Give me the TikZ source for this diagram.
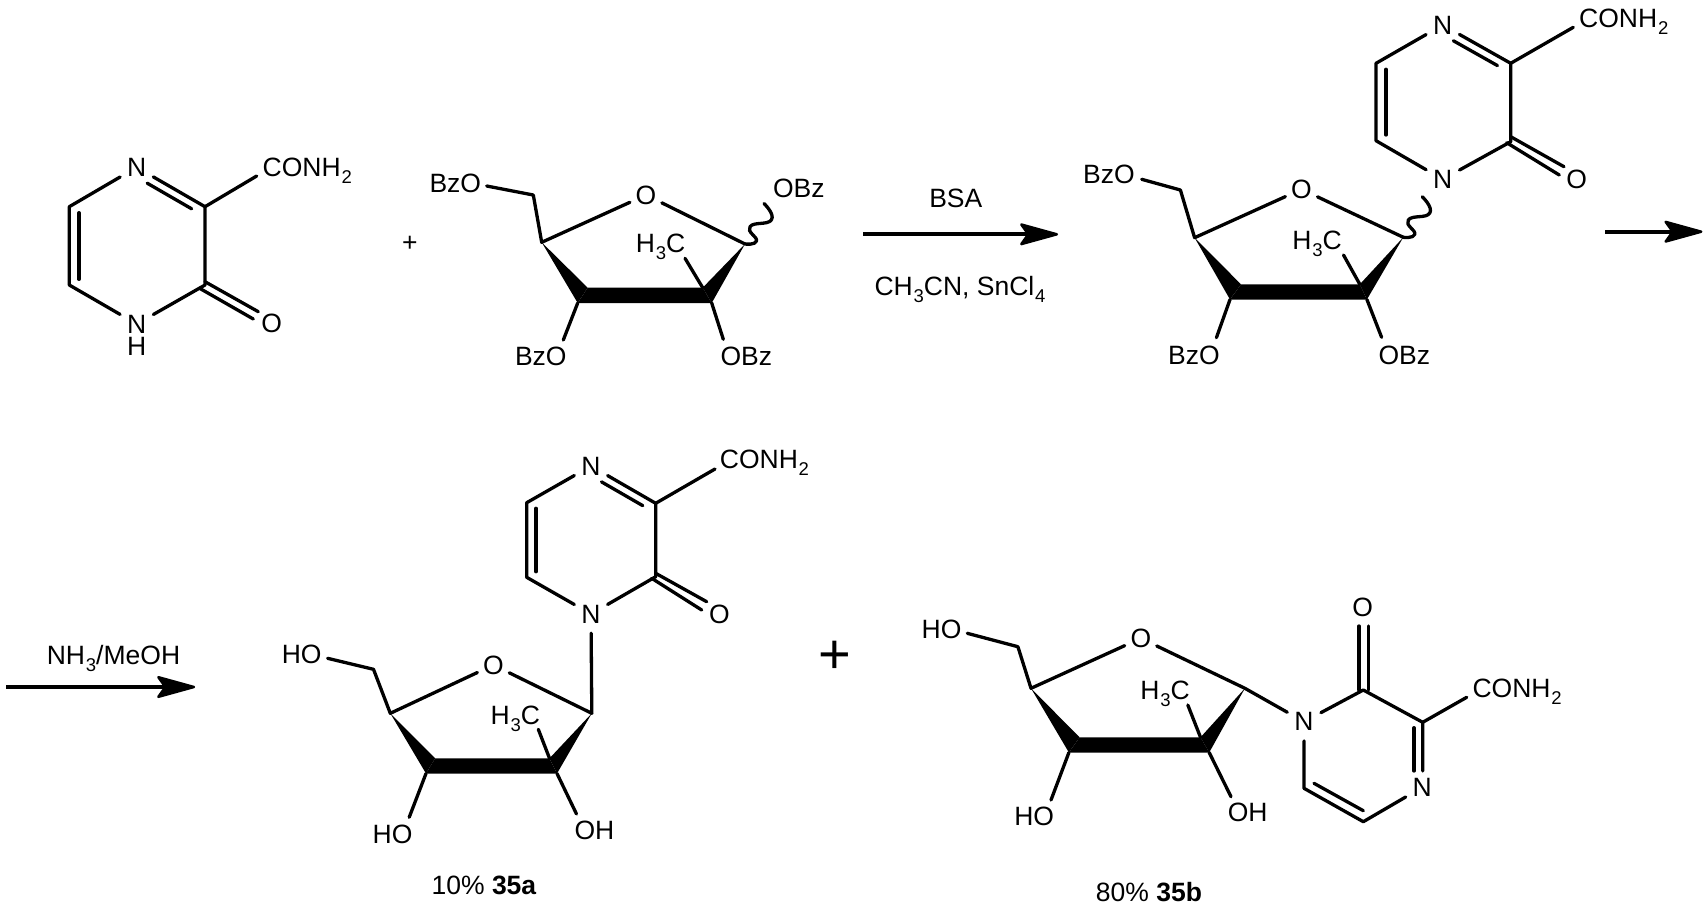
\documentclass[tikz,border=0pt]{standalone}
\usepackage{fontspec}
\setmainfont{Liberation Sans}
\usetikzlibrary{calc}
\newcommand{\lsub}[1]{\kern0.8pt\raisebox{-7pt}{\fontsize{18.5}{20}\selectfont #1}}
\newcommand{\ib}[5]{\draw[bond,shorten <=#4pt,shorten >=#5pt] ($(#1)!#3pt!90:(#2)$) -- ($(#2)!#3pt!-90:(#1)$);}
\newcommand{\wav}[1]{\draw[bond,shift={(#1)}] plot[smooth,tension=0.9] coordinates {(0,0) (11.5,-3) (5,-17.3) (26.5,-24.3) (19,-40.5)};}
\newcommand{\rxnarrow}[2]{%
  \draw[rxn] (#1) -- ($(#2)+(-25,0)$);
  \filldraw[rxnhead,shift={(#2)}] (-1.5,0) -- (-37,-9.8) -- (-30,0) -- (-37,9.8) -- cycle;
}
\newcommand{\furan}[1]{%
  \fill (#1c4) -- (#1tl) -- (#1bl) -- cycle;
  \fill (#1c1) -- (#1tr) -- (#1br) -- cycle;
  \fill (#1tl) -- (#1tr) -- (#1br) -- (#1bl) -- cycle;
  \draw[bond] (#1sb) -- (#1ch2) -- (#1c4) -- (#1o) -- (#1c1);
  \draw[bond] (#1me) -- (#1tr);
  \draw[bond] (#1bl) -- (#1lb);
  \draw[bond] (#1br) -- (#1rb);
}
\tikzset{
  every node/.style={font=\fontsize{26.5}{30}\selectfont},
  bond/.style={line width=3.3pt,line cap=round,line join=round},
  atom/.style={circle,inner sep=0pt,minimum size=38pt},
  ringo/.style={circle,inner sep=0pt,minimum size=35pt},
  lab/.style={inner sep=0pt,anchor=base},
  labw/.style={inner sep=0pt,anchor=base west},
  rxn/.style={line width=4pt},
  rxnhead/.style={line width=2.5pt,line join=round}
}
\begin{document}
\begin{tikzpicture}[x=1pt,y=-1pt]
\useasboundingbox (0,0) rectangle (1706,914);
% --- structure 1: pyrazinone
\node[atom] (an4) at (136.7,167.3) {N};
\node[atom] (an1) at (136.7,324) {N};
\node[inner sep=0pt] (ah1) at (136.7,346.7) {H};
\node (ao) at (271.7,323.3) {O};
\node[labw] (acn) at (262.5,176.5) {CONH\lsub{2}};
\coordinate (ac3) at (205,206.7);
\coordinate (ac2) at (205,285);
\coordinate (ac6) at (69.3,206.7);
\coordinate (ac5) at (69.3,285);
\coordinate (acb) at (256.7,176);
\coordinate (aoa) at (258.3,311.7);
\coordinate (aoo) at (205,281.7);
\coordinate (aob) at (200,288.5);
\coordinate (aoc) at (253.3,319);
\draw[bond] (an4) -- (ac6) -- (ac5) -- (an1) -- (ac2) -- (ac3) -- (an4);
\ib{ac3}{an4}{8.5}{10.5}{17}
\ib{ac6}{ac5}{9.7}{6}{5.7}
\draw[bond] (ac3) -- (acb);
\draw[bond] (aoo) -- (aoa);
\draw[bond] (aob) -- (aoc);
% --- plus 1
\node (plusa) at (409.8,244) {+};
% --- structure 1: sugar
\node[ringo] (fao) at (646,195) {O};
\coordinate (fac4) at (541.7,242.3);
\coordinate (fach2) at (533.3,195);
\coordinate (fac1) at (745,244);
\coordinate (fasb) at (486.7,186);
\coordinate (fatl) at (587.7,287.7);
\coordinate (fatr) at (702.7,287.7);
\coordinate (fabl) at (577.7,303);
\coordinate (fabr) at (711.7,303);
\coordinate (fame) at (685,258.3);
\coordinate (falb) at (563.3,340);
\coordinate (farb) at (723.3,339.3);
\furan{fa}
\wav{fac1}
\node[lab] (falab1) at (455.3,192.3) {BzO};
\node[lab] (falab2) at (798.8,197.3) {OBz};
\node[lab] (falab3) at (540.8,365.7) {BzO};
\node[lab] (falab4) at (746.3,365.7) {OBz};
\node[lab] (falab5) at (660.5,252.7) {H\lsub{3}C};
% --- arrow 1
\node[lab] (bsa) at (955.8,207.3) {BSA};
\node[lab] (sol) at (960,295) {CH\lsub{3}CN, SnCl\lsub{4}};
\coordinate (r1s) at (863.3,234.3);
\coordinate (r1e) at (1058.3,234.3);
\rxnarrow{r1s}{r1e}
% --- structure 2: pyrazinone
\node[atom] (bn4) at (1442.7,25) {N};
\node[atom] (bn1) at (1442.7,179.3) {N};
\node (bo) at (1576.7,179.3) {O};
\node[labw] (bcn) at (1579,27.3) {CONH\lsub{2}};
\coordinate (bc3) at (1510.7,63.3);
\coordinate (bc2) at (1510.7,141.7);
\coordinate (bc6) at (1376,63.3);
\coordinate (bc5) at (1376,140.7);
\coordinate (bcb) at (1573.3,27.3);
\coordinate (boo) at (1510.7,136.7);
\coordinate (boa) at (1564,166.7);
\coordinate (bob) at (1506.7,142.7);
\coordinate (boc) at (1559.3,175);
\draw[bond] (bn4) -- (bc6) -- (bc5) -- (bn1) -- (bc2) -- (bc3) -- (bn4);
\ib{bc3}{bn4}{8.5}{10.4}{17}
\ib{bc6}{bc5}{10}{6}{5.7}
\draw[bond] (bc3) -- (bcb);
\draw[bond] (boo) -- (boa);
\draw[bond] (bob) -- (boc);
% --- structure 2: sugar
\node[ringo] (fbo) at (1301.5,189.3) {O};
\coordinate (fbc4) at (1194.6,237.7);
\coordinate (fbch2) at (1180.4,190);
\coordinate (fbc1) at (1403.3,237.3);
\coordinate (fbsb) at (1141.7,179.3);
\coordinate (fbtl) at (1241,284.3);
\coordinate (fbtr) at (1359.8,284.3);
\coordinate (fbbl) at (1230,299.5);
\coordinate (fbbr) at (1366.9,299.5);
\coordinate (fbme) at (1343.5,255);
\coordinate (fblb) at (1216.4,337.7);
\coordinate (fbrb) at (1381.6,337.3);
\furan{fb}
\wav{fbc1}
\node[lab] (fblab1) at (1109,183.3) {BzO};
\node[lab] (fblab3) at (1194,364) {BzO};
\node[lab] (fblab4) at (1404.3,364) {OBz};
\node[lab] (fblab5) at (1317,249) {H\lsub{3}C};
% --- arrow 2
\coordinate (r2s) at (1605,231.7);
\coordinate (r2e) at (1702.7,231.7);
\rxnarrow{r2s}{r2e}
% --- arrow 3
\node[lab] (nh3) at (113.5,664) {NH\lsub{3}/MeOH};
\coordinate (r3s) at (6,687);
\coordinate (r3e) at (195.4,687);
\rxnarrow{r3s}{r3e}
% --- structure 3: pyrazinone
\node[atom] (cn4) at (591,466) {N};
\node[atom] (cn1) at (591,614) {N};
\node (co) at (719.3,614) {O};
\node[labw] (ccn) at (719.7,468.3) {CONH\lsub{2}};
\coordinate (cc3) at (655.7,503.3);
\coordinate (cc2) at (655.7,576.7);
\coordinate (cc6) at (526.7,502.7);
\coordinate (cc5) at (526.7,577.3);
\coordinate (ccb) at (715,469);
\coordinate (coo) at (655.7,573.3);
\coordinate (coa) at (706.7,601.7);
\coordinate (cob) at (651.7,578.3);
\coordinate (coc) at (701.7,610);
\draw[bond] (cn4) -- (cc6) -- (cc5) -- (cn1) -- (cc2) -- (cc3) -- (cn4);
\ib{cc3}{cn4}{8.5}{10}{17}
\ib{cc6}{cc5}{9.3}{5.6}{5.6}
\draw[bond] (cc3) -- (ccb);
\draw[bond] (coo) -- (coa);
\draw[bond] (cob) -- (coc);
% --- structure 3: sugar
\node[ringo] (fco) at (493.4,665) {O};
\coordinate (fcc4) at (390.3,713.3);
\coordinate (fcch2) at (373.5,669.3);
\coordinate (fcc1) at (591.8,713.3);
\coordinate (fcsb) at (327.6,658.3);
\coordinate (fctl) at (435.2,758.3);
\coordinate (fctr) at (549.5,758.3);
\coordinate (fcbl) at (426,773.5);
\coordinate (fcbr) at (557,773.5);
\coordinate (fcme) at (538.3,729.3);
\coordinate (fclb) at (409.2,817.3);
\coordinate (fcrb) at (576.5,814);
\furan{fc}
\draw[bond] (fcc1) -- (cn1);
\node[lab] (fclab1) at (301.7,663.3) {HO};
\node[lab] (fclab3) at (392.5,843.3) {HO};
\node[lab] (fclab4) at (594.4,839.7) {OH};
\node[lab] (fclab5) at (515.3,724) {H\lsub{3}C};
\node[lab] (ya) at (484,894.5) {10\% \textbf{35a}};
% --- big plus
\node[font=\fontsize{56}{60}\selectfont] (plusb) at (834.7,657) {+};
% --- structure 4
\node[ringo] (fdo) at (1140.8,638.3) {O};
\coordinate (fdc4) at (1031,688.3);
\coordinate (fdch2) at (1017.9,646.7);
\coordinate (fdc1) at (1244.9,688.3);
\coordinate (fdsb) at (967.3,633.3);
\coordinate (fdtl) at (1079.6,737.3);
\coordinate (fdtr) at (1200.5,737.3);
\coordinate (fdbl) at (1068.9,752.5);
\coordinate (fdbr) at (1209.2,752.5);
\coordinate (fdme) at (1187.8,705);
\coordinate (fdlb) at (1051,800);
\coordinate (fdrb) at (1231,796.7);
\furan{fd}
\node[lab] (fdlab1) at (941.5,638.3) {HO};
\node[lab] (fdlab3) at (1034.2,825.7) {HO};
\node[lab] (fdlab4) at (1247.7,821.7) {OH};
\node[lab] (fdlab5) at (1165,699.7) {H\lsub{3}C};
\node[lab] (yb) at (1149,901.7) {80\% \textbf{35b}};
\node[atom] (dn1) at (1304,721.7) {N};
\node[atom] (dn4) at (1422.3,787.3) {N};
\node (do) at (1362.7,607.3) {O};
\node[labw] (dcn) at (1472.3,697.7) {CONH\lsub{2}};
\coordinate (dc2) at (1363.3,690);
\coordinate (dc3) at (1422.7,722.3);
\coordinate (dc5) at (1363.3,821.7);
\coordinate (dc6) at (1304,788.3);
\coordinate (dcb) at (1466.7,697.3);
\coordinate (dna) at (1422.7,771);
\coordinate (dnb) at (1414,727.7);
\coordinate (dnc) at (1414,771);
\coordinate (doa) at (1359,690);
\coordinate (dob) at (1359,626);
\coordinate (doc) at (1368.3,690);
\coordinate (dod) at (1368.3,626);
\coordinate (dia) at (1314,783.3);
\coordinate (dib) at (1363.3,810.7);
\draw[bond] (fdc1) -- (dn1) -- (dc2) -- (dc3) -- (dna);
\draw[bond] (dnb) -- (dnc);
\draw[bond] (dc3) -- (dcb);
\draw[bond] (dn1) -- (dc6) -- (dc5) -- (dn4);
\draw[bond] (dia) -- (dib);
\draw[bond] (doa) -- (dob);
\draw[bond] (doc) -- (dod);
\end{tikzpicture}
\end{document}
